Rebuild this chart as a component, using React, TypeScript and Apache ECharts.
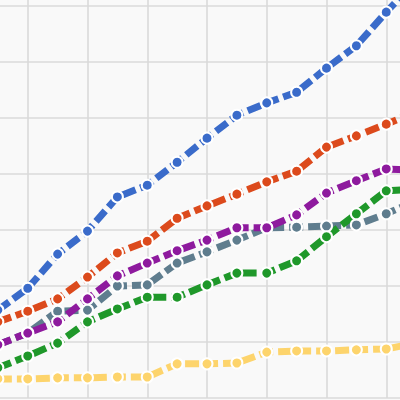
import React, { useEffect, useRef } from "react";
import * as echarts from "echarts";

// x positions (category index + 1); gridlines fall on even values
const xValues = [1, 2, 3, 4, 5, 6, 7, 8, 9, 10, 11, 12, 13, 14, 15];

const blueValues = [15.7, 19.6, 25.7, 29.8, 35.9, 38.0, 42.1, 46.4, 50.5, 52.7, 54.6, 58.9, 62.9, 68.9, 74.5];
const orangeValues = [13.6, 15.5, 17.7, 21.6, 25.9, 28.0, 32.1, 34.3, 36.4, 38.6, 40.5, 44.8, 46.8, 48.9, 51.1];
const purpleValues = [9.5, 11.6, 13.6, 17.7, 21.8, 24.1, 26.3, 28.2, 30.4, 30.4, 32.7, 36.6, 38.8, 40.9, 40.7];
const grayValues = [9.5, 11.6, 15.5, 15.7, 20.0, 20.2, 24.1, 26.1, 28.2, 30.4, 30.5, 30.7, 30.9, 32.9, 35.2];
const greenValues = [5.4, 7.5, 9.8, 13.6, 15.9, 18.0, 18.0, 20.2, 22.3, 22.3, 24.5, 28.8, 32.9, 37.0, 37.3];
const yellowValues = [3.4, 3.4, 3.6, 3.6, 3.75, 3.75, 6.1, 6.1, 6.25, 8.2, 8.4, 8.4, 8.6, 8.75, 9.8];

const seriesDefs = [
  { name: "Yellow", color: "#fdd46c", values: yellowValues },
  { name: "Gray", color: "#5f7d8e", values: grayValues },
  { name: "Green", color: "#1f982a", values: greenValues },
  { name: "Purple", color: "#8e1a9e", values: purpleValues },
  { name: "Orange", color: "#dc4a1c", values: orangeValues },
  { name: "Blue", color: "#3a6bca", values: blueValues },
];

export default function App() {
  const ref = useRef<HTMLDivElement>(null);
  useEffect(() => {
    if (!ref.current) return;
    const chart = echarts.init(ref.current, undefined, { renderer: "svg" });
    chart.setOption({
      animation: false,
      backgroundColor: "#f9f9f9",
      grid: { left: 0, right: 0, top: 0, bottom: 12 },
      xAxis: {
        type: "value",
        min: 0,
        max: 16,
        interval: 2,
        axisLine: { show: false },
        axisTick: { show: false },
        axisLabel: { show: false },
        splitLine: { show: true, lineStyle: { color: "#dadada", width: 1.6 } },
      },
      yAxis: {
        type: "value",
        min: 0,
        max: 80,
        interval: 10,
        axisLine: { show: false },
        axisTick: { show: false },
        axisLabel: { show: false },
        splitLine: { show: true, lineStyle: { color: "#dadada", width: 1.6 } },
      },
      series: seriesDefs.map((s) => ({
        type: "line",
        name: s.name,
        data: xValues.map((x, i) => [x, s.values[i]]),
        symbol: "circle",
        symbolSize: 11,
        showSymbol: true,
        lineStyle: { color: s.color, width: 7, type: [14, 5] },
        itemStyle: { color: s.color, borderColor: "#ffffff", borderWidth: 2 },
        z: 2,
      })),
    });
    return () => chart.dispose();
  }, []);
  return (
    <div
      ref={ref}
      style={{ position: "fixed", left: -32, top: -50, width: 478, height: 460 }}
    />
  );
}
